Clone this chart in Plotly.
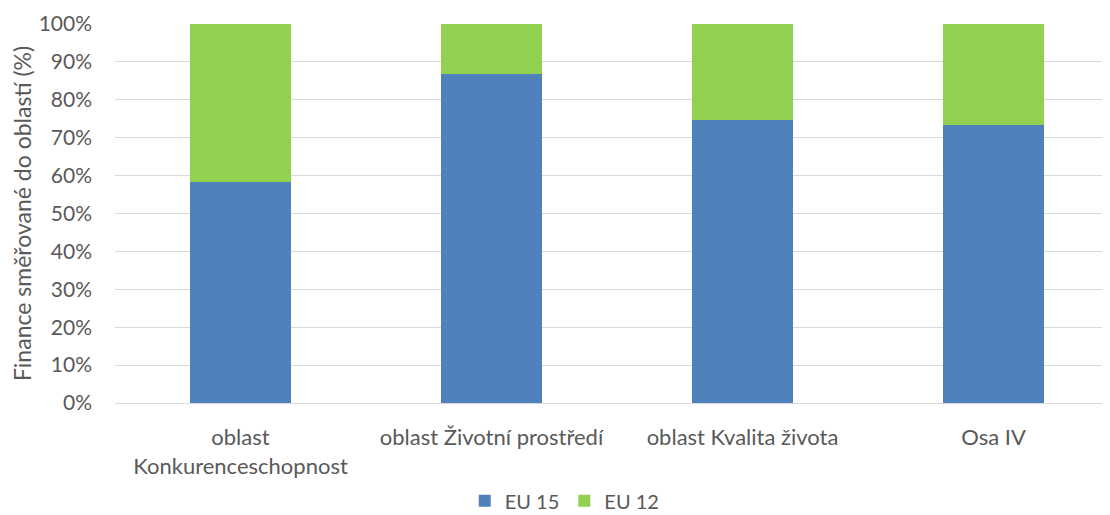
import plotly.graph_objects as go

categories = ["oblast<br>Konkurenceschopnost", "oblast Životní prostředí", "oblast Kvalita života", "Osa IV"]
eu15 = [0.584, 0.868, 0.747, 0.733]
eu12 = [1 - v for v in eu15]
y_ticks = [i / 10 for i in range(11)]

font_family = "Lato, Open Sans, sans-serif"
text_color = "#595959"

fig = go.Figure()
fig.add_trace(go.Bar(x=categories, y=eu15, name="EU 15", marker=dict(color="#4F81BD", line=dict(width=0))))
fig.add_trace(go.Bar(x=categories, y=eu12, name="EU 12", marker=dict(color="#92D050", line=dict(width=0))))

# page body has an 8px margin, so the figure is sized/offset to compensate
fig.update_layout(
    barmode="stack",
    bargap=0.6,
    width=1102,
    height=507,
    margin=dict(l=107, r=0, t=16, b=112, autoexpand=False),
    paper_bgcolor="white",
    plot_bgcolor="white",
    font=dict(family=font_family, size=22, color=text_color),
    showlegend=True,
    legend=dict(orientation="h", x=0.452, xanchor="center", y=-0.258, yanchor="middle",
                font=dict(size=20, color=text_color), traceorder="normal", itemwidth=30,
                tracegroupgap=0),
    xaxis=dict(range=[-0.5, 3.464], showgrid=False, showline=True, linecolor="#D9D9D9", linewidth=1,
               ticks="", ticklabelstandoff=15, tickfont=dict(size=22, color=text_color), automargin=False),
    yaxis=dict(range=[0, 1], tickvals=y_ticks, tickformat=".0%", showgrid=True, gridcolor="#D9D9D9",
               gridwidth=1, zeroline=False, showline=False, ticks="", ticklabelstandoff=22,
               tickfont=dict(size=21, color=text_color), automargin=False,
               title=dict(text="Finance směřované do oblastí (%)", font=dict(size=23, color=text_color), standoff=12)),
)

fig.write_html("out.html")
